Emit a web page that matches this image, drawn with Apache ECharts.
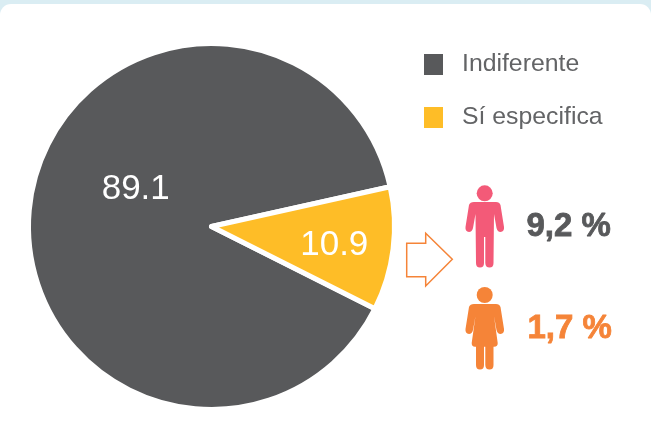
<!DOCTYPE html>
<html>
<head>
<meta charset="utf-8">
<style>
html, body { margin: 0; padding: 0; width: 651px; height: 446px; overflow: hidden; background: #daedf3; }
#card { position: absolute; left: 0; top: 4px; width: 651px; height: 442px; background: #fff; border-radius: 11px 11px 0 0; }
#chart { position: absolute; left: 0; top: 0; width: 651px; height: 446px; }
</style>
</head>
<body>
<div id="card"></div>
<div id="chart"></div>
<script src="https://cdn.jsdelivr.net/npm/echarts@6/dist/echarts.min.js"></script>
<script>
"use strict";
// datos del grafico
var categories = ['Indiferente', 'Sí especifica'];
var values = [89.1, 10.9];
var sliceColors = ['#58595b', '#febd27'];
var genderLabels = ['9,2 %', '1,7 %'];
var genderColors = ['#58595b', '#f58438'];

var textFont = '"Liberation Sans", Arial, sans-serif';

// siluetas y flecha
var manPath = 'M474 202L496 202Q499.5 202 500.5 205L504 227Q504.5 231.5 500.5 232Q497.5 232 496.5 228L494 214L493.5 263Q493.5 267.5 489.5 267.5Q485.5 267.5 485.3 263L485.3 237L484 237L484 263Q484 267.5 480 267.5Q476 267.5 476 263L475.5 214L473 228Q472 232 469 232Q465 231.5 465.5 227L469 205Q470 202 474 202Z';
var womanPath = 'M474 304L496 304Q499.5 304 500.5 307L504 329Q504.5 333.5 500.5 334Q497.5 334 496.5 330L494 316L497.7 343Q498 346.5 494 346.7L493.5 346.7L493.5 365Q493.5 369.5 489.5 369.5Q485.5 369.5 485.3 365L485.3 346.7L484 346.7L484 365Q484 369.5 480 369.5Q476 369.5 476 365L476 346.7L475 346.7Q471.5 346.5 471.7 343L475.5 316L473 330Q472 334 469 334Q465 333.5 465.5 329L469 307Q470 304 474 304Z';
var arrowPoints = [[406.7, 243.3], [425.7, 243.3], [425.7, 233.3], [452.3, 259.3], [425.7, 286], [425.7, 276.7], [406.7, 276.7]];

// graphic no tiene tipo path, se registran las formas
echarts.graphic.registerShape('manIcon', echarts.graphic.extendPath(manPath, {}));
echarts.graphic.registerShape('womanIcon', echarts.graphic.extendPath(womanPath, {}));

var myChart = echarts.init(document.getElementById('chart'), null, { renderer: 'canvas' });

var seriesData = categories.map(function (name, i) {
    return {
        name: name,
        value: values[i],
        itemStyle: { color: sliceColors[i] },
        label: { offset: i === 0 ? [18, -26] : [29, 7] }
    };
});

myChart.setOption({
    animation: false,
    backgroundColor: 'transparent',
    legend: {
        orient: 'vertical',
        left: 424,
        top: 52,
        padding: 0,
        itemWidth: 19,
        itemHeight: 21,
        itemGap: 28,
        icon: 'rect',
        selectedMode: false,
        data: categories,
        itemStyle: { borderWidth: 0 },
        textStyle: {
            fontFamily: '"Liberation Sans Narrow", "Liberation Sans", sans-serif',
            fontSize: 24.8,
            lineHeight: 21,
            color: '#636466',
            padding: [0, 0, 0, 14]
        }
    },
    series: [
        {
            type: 'pie',
            center: [211.5, 226.5],
            radius: [0, 183],
            startAngle: -26.7,
            clockwise: true,
            silent: true,
            itemStyle: { borderColor: '#fff', borderWidth: 5, borderJoin: 'round' },
            label: {
                show: true,
                position: 'inner',
                formatter: function (p) { return p.value.toFixed(1); },
                color: '#fff',
                fontFamily: textFont,
                fontSize: 35,
                fontWeight: 'normal'
            },
            labelLine: { show: false },
            data: seriesData
        }
    ],
    graphic: [
        { type: 'polygon', shape: { points: arrowPoints }, style: { fill: '#fff', stroke: '#f58438', lineWidth: 1.5 } },
        { type: 'circle', shape: { cx: 484.7, cy: 193.3, r: 8 }, style: { fill: '#f35a78' } },
        { type: 'manIcon', style: { fill: '#f35a78' } },
        { type: 'circle', shape: { cx: 484.7, cy: 295, r: 8 }, style: { fill: '#f58438' } },
        { type: 'womanIcon', style: { fill: '#f58438' } },
        { type: 'text', left: 526, top: 210, style: { text: genderLabels[0], fill: genderColors[0], stroke: genderColors[0], lineWidth: 0.8, font: 'bold 33px ' + textFont } },
        { type: 'text', left: 527, top: 312, style: { text: genderLabels[1], fill: genderColors[1], stroke: genderColors[1], lineWidth: 0.8, font: 'bold 33px ' + textFont } }
    ]
});

window.onresize = function () {
    myChart.resize();
};
</script>
</body>
</html>
